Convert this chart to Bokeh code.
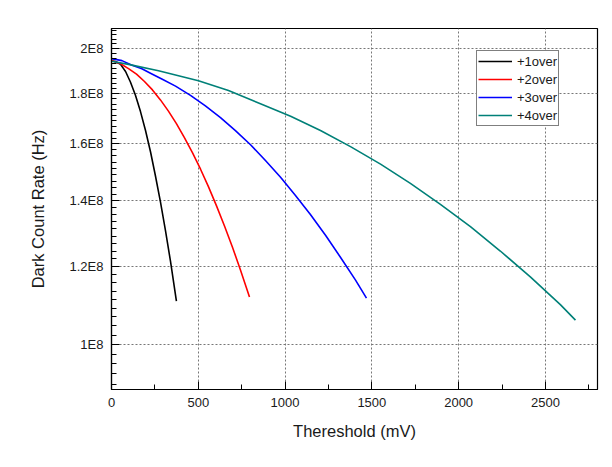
from bokeh.plotting import figure
from bokeh.models import Range1d, FixedTicker, Legend, LegendItem
from bokeh.embed import file_html
from bokeh.resources import INLINE

# ---- data ----
x_1over = [0, 12, 23, 52, 81, 109, 138, 167, 196, 225, 253, 282, 311, 340, 374]
y_1over = [1.942e8, 1.942e8, 1.941e8, 1.928e8, 1.896e8, 1.850e8, 1.793e8, 1.726e8, 1.651e8, 1.570e8,
           1.485e8, 1.397e8, 1.306e8, 1.215e8, 1.107e8]

x_2over = [0, 52, 98, 144, 190, 236, 282, 328, 374, 420, 467, 513, 559, 605, 651, 697, 743, 795]
y_2over = [1.946e8, 1.931e8, 1.909e8, 1.884e8, 1.852e8, 1.816e8, 1.774e8, 1.728e8, 1.678e8, 1.624e8,
           1.567e8, 1.508e8, 1.447e8, 1.384e8, 1.320e8, 1.256e8, 1.191e8, 1.118e8]

x_3over = [0, 60, 115, 175, 230, 290, 369, 455, 541, 628, 714, 801, 887, 974, 1060, 1146, 1233, 1319,
           1406, 1469]
y_3over = [1.954e8, 1.945e8, 1.925e8, 1.908e8, 1.886e8, 1.863e8, 1.832e8, 1.793e8, 1.749e8, 1.702e8,
           1.651e8, 1.597e8, 1.539e8, 1.480e8, 1.418e8, 1.356e8, 1.292e8, 1.227e8, 1.163e8, 1.115e8]

x_4over = [0, 98, 271, 501, 674, 858, 1032, 1204, 1377, 1550, 1722, 1895, 2068, 2240, 2413, 2586, 2673]
y_4over = [1.942e8, 1.928e8, 1.899e8, 1.855e8, 1.813e8, 1.758e8, 1.707e8, 1.651e8, 1.590e8, 1.526e8,
           1.459e8, 1.389e8, 1.318e8, 1.245e8, 1.172e8, 1.098e8, 1.059e8]

series_names = ["+1over", "+2over", "+3over", "+4over"]
series_colors = ["#000000", "#ff0000", "#0000ff", "#008078"]

x_ticks = [0, 500, 1000, 1500, 2000, 2500]
x_minor = [250, 750, 1250, 1750, 2250, 2750]
y_ticks = [1.0e8, 1.2e8, 1.4e8, 1.6e8, 1.8e8, 2.0e8]
y_tick_labels = ["1E8", "1.2E8", "1.4E8", "1.6E8", "1.8E8", "2E8"]

FONT = "Liberation Sans"

# minor ticks on y: 8 between each pair of majors
step = 0.2e8 / 9
y_minor = []
for k in range(1, 5):
    y_minor.append(1.0e8 - k * step)
for t in y_ticks:
    for k in range(1, 9):
        v = t + k * step
        if v < 2.097e8:
            y_minor.append(v)

p = figure(width=612, height=458, output_backend="svg", toolbar_location=None,
           y_axis_type="log",
           x_range=Range1d(0, 2800), y_range=Range1d(9.0e7, 2.097e8),
           min_border_left=111, min_border_right=15, min_border_top=28, min_border_bottom=69)

p.background_fill_color = "white"
p.border_fill_color = "white"
p.outline_line_color = "black"
p.outline_line_width = 1.2
p.outline_line_alpha = 1.0

p.xaxis.ticker = FixedTicker(ticks=x_ticks, minor_ticks=x_minor)
p.yaxis.ticker = FixedTicker(ticks=y_ticks, minor_ticks=y_minor)
p.yaxis.major_label_overrides = {t: l for t, l in zip(y_ticks, y_tick_labels)}
p.xaxis.major_label_overrides = {t: str(t) for t in x_ticks}

for ax in (p.xaxis, p.yaxis):
    ax.axis_line_color = "black"
    ax.axis_line_width = 1.2
    ax.major_tick_line_color = "black"
    ax.minor_tick_line_color = "black"
    ax.major_tick_in = 8
    ax.major_tick_out = 0
    ax.minor_tick_in = 5
    ax.minor_tick_out = 0
    ax.major_label_text_font = FONT
    ax.major_label_text_font_size = "13px"
    ax.major_label_text_color = "#1a1a1a"
    ax.axis_label_text_font = FONT
    ax.axis_label_text_font_size = "16.5px"
    ax.axis_label_text_font_style = "normal"
    ax.axis_label_text_color = "#1a1a1a"

p.xaxis.axis_label = "Thereshold (mV)"
p.yaxis.axis_label = "Dark Count Rate (Hz)"
p.xaxis.major_label_standoff = 8
p.yaxis.major_label_standoff = 8
p.xaxis.axis_label_standoff = 12
p.yaxis.axis_label_standoff = 20

p.xgrid.ticker = FixedTicker(ticks=x_ticks)
p.ygrid.ticker = FixedTicker(ticks=y_ticks)
for g in (p.xgrid, p.ygrid):
    g.grid_line_color = "#777777"
    g.grid_line_dash = "2 2"
    g.grid_line_width = 1

xs = [x_1over, x_2over, x_3over, x_4over]
ys = [y_1over, y_2over, y_3over, y_4over]
items = []
for xv, yv, name, col in zip(xs, ys, series_names, series_colors):
    r = p.line(xv, yv, line_color=col, line_width=1.6, line_join="round")
    items.append(LegendItem(label=name, renderers=[r]))

legend = Legend(items=items, location=(365, 263))
legend.border_line_color = "black"
legend.border_line_width = 1
legend.background_fill_color = "white"
legend.background_fill_alpha = 1.0
legend.label_text_font = FONT
legend.label_text_font_size = "13px"
legend.label_text_color = "#1a1a1a"
legend.glyph_width = 34
legend.glyph_height = 18
legend.label_height = 18
legend.label_standoff = 5
legend.spacing = 0
legend.padding = 1
legend.margin = 0
p.add_layout(legend, "center")

open("out.html", "w").write(file_html(p, INLINE))
